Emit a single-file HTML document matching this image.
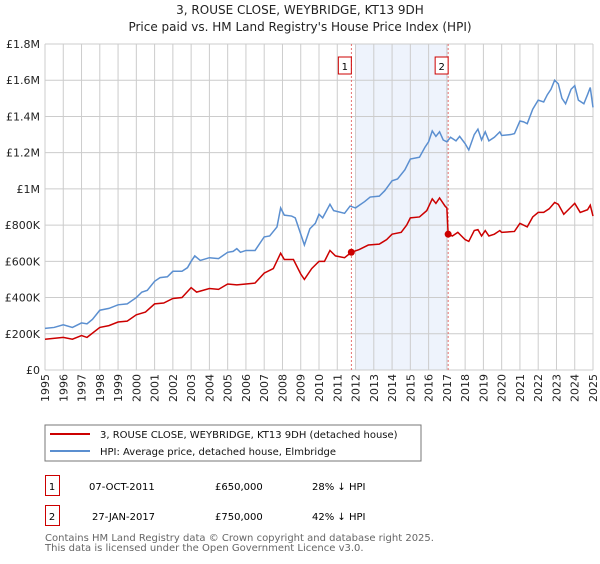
<!DOCTYPE html>
<html><head><meta charset="utf-8"><style>
body{margin:0;background:#fff;font-family:"DejaVu Sans","Liberation Sans",sans-serif;}
svg text{font-family:"DejaVu Sans","Liberation Sans",sans-serif;}
</style></head><body>
<svg id="c" width="600" height="560" xmlns="http://www.w3.org/2000/svg">
<text x="300" y="14" text-anchor="middle" font-size="12" fill="#222">3, ROUSE CLOSE, WEYBRIDGE, KT13 9DH</text>
<text x="300" y="31" text-anchor="middle" font-size="12" fill="#222">Price paid vs. HM Land Registry's House Price Index (HPI)</text>
<g id="grid"></g><g id="marks"></g><g id="axes"></g>
<rect x="45" y="425" width="376" height="36" fill="#fff" stroke="#777"/>
<line x1="50" y1="434" x2="90" y2="434" stroke="#cc0000" stroke-width="2"/>
<text x="100" y="438" font-size="10" fill="#111">3, ROUSE CLOSE, WEYBRIDGE, KT13 9DH (detached house)</text>
<line x1="50" y1="451" x2="90" y2="451" stroke="#5b8fd0" stroke-width="2"/>
<text x="100" y="455" font-size="10" fill="#111">HPI: Average price, detached house, Elmbridge</text>
<g>
<rect x="45.5" y="475.5" width="14" height="20" fill="none" stroke="#cc0000"/>
<text x="52" y="490" text-anchor="middle" font-size="10">1</text>
<text x="89" y="490" font-size="10">07-OCT-2011</text>
<text x="215" y="490" font-size="10">£650,000</text>
<text x="312" y="490" font-size="10">28% ↓ HPI</text></g>
<g>
<rect x="45.5" y="505.5" width="14" height="20" fill="none" stroke="#cc0000"/>
<text x="52" y="520" text-anchor="middle" font-size="10">2</text>
<text x="92" y="520" font-size="10">27-JAN-2017</text>
<text x="215" y="520" font-size="10">£750,000</text>
<text x="312" y="520" font-size="10">42% ↓ HPI</text></g>
<text x="45" y="541" font-size="10" fill="#666">Contains HM Land Registry data © Crown copyright and database right 2025.</text>
<text x="45" y="551" font-size="10" fill="#666">This data is licensed under the Open Government Licence v3.0.</text>
</svg>
<script>
const yTicks=[0,200,400,600,800,1000,1200,1400,1600,1800];
const yTickLabels=["£0","£200K","£400K","£600K","£800K","£1M","£1.2M","£1.4M","£1.6M","£1.8M"];
const years=[1995,1996,1997,1998,1999,2000,2001,2002,2003,2004,2005,2006,2007,2008,2009,2010,2011,2012,2013,2014,2015,2016,2017,2018,2019,2020,2021,2022,2023,2024,2025];
const hpiT=[1995,1995.5,1996,1996.5,1997,1997.3,1997.6,1998,1998.5,1999,1999.5,2000,2000.3,2000.6,2001,2001.3,2001.7,2002,2002.5,2002.8,2003,2003.2,2003.5,2004,2004.5,2005,2005.3,2005.5,2005.7,2006,2006.5,2007,2007.3,2007.7,2007.9,2008.1,2008.5,2008.7,2009,2009.2,2009.5,2009.8,2010,2010.2,2010.6,2010.8,2011,2011.4,2011.7,2012,2012.5,2012.8,2013.3,2013.6,2014,2014.3,2014.7,2015,2015.5,2015.8,2016,2016.2,2016.4,2016.6,2016.8,2017,2017.2,2017.5,2017.7,2018,2018.2,2018.5,2018.7,2018.9,2019.1,2019.3,2019.6,2019.9,2020,2020.5,2020.7,2021,2021.2,2021.4,2021.7,2022,2022.3,2022.5,2022.7,2022.9,2023.1,2023.3,2023.5,2023.8,2024,2024.2,2024.5,2024.7,2024.85,2025];
const hpiV=[230,235,250,235,260,255,280,330,340,360,365,400,430,440,490,510,515,545,545,565,600,630,605,620,615,650,655,670,650,660,660,735,740,790,895,855,850,840,750,690,780,810,860,840,915,880,875,865,905,895,930,955,960,990,1045,1055,1105,1165,1175,1230,1260,1320,1290,1315,1270,1260,1285,1265,1290,1250,1215,1300,1330,1270,1315,1265,1285,1315,1295,1300,1305,1375,1370,1360,1440,1490,1480,1520,1550,1600,1580,1500,1470,1550,1570,1490,1470,1520,1560,1450];
const ppT=[1995,1996,1996.5,1997,1997.3,1998,1998.5,1999,1999.5,2000,2000.5,2001,2001.5,2002,2002.5,2003,2003.3,2004,2004.5,2005,2005.5,2006,2006.5,2007,2007.5,2007.9,2008.1,2008.6,2009,2009.2,2009.6,2010,2010.3,2010.6,2010.9,2011.4,2011.77,2012.2,2012.7,2013.3,2013.7,2014,2014.5,2014.8,2015,2015.5,2015.9,2016.2,2016.4,2016.6,2016.9,2017,2017.07,2017.3,2017.6,2018,2018.2,2018.5,2018.7,2018.9,2019.1,2019.3,2019.6,2019.9,2020,2020.7,2021,2021.4,2021.7,2022,2022.3,2022.6,2022.9,2023.1,2023.4,2023.8,2024,2024.3,2024.7,2024.85,2025];
const ppV=[170,180,170,190,180,235,245,265,270,305,320,365,370,395,400,455,430,450,445,475,470,475,480,535,560,645,610,610,530,500,560,600,600,660,630,620,650,665,690,695,720,750,760,800,840,845,880,945,920,950,905,895,750,740,760,720,710,770,775,740,770,740,750,770,760,765,810,790,845,870,870,890,925,915,860,900,920,870,885,910,850];
const saleT=[2011.77,2017.07];
const saleV=[650,750];
const saleLabels=["1","2"];
const shadeRange=[2012,2017.07];

const NS="http://www.w3.org/2000/svg";
const X0=45,X1=593,Y0=370,Y1=44;
const xs=t=>X0+(t-1995)/30*(X1-X0);
const ys=v=>Y0-v/1800*(Y0-Y1);
function mk(tag,attrs,parent){const e=document.createElementNS(NS,tag);for(const k in attrs)e.setAttribute(k,attrs[k]);parent.appendChild(e);return e;}
const grid=document.getElementById('grid'),marks=document.getElementById('marks'),axes=document.getElementById('axes');
let r=mk('rect',{x:xs(shadeRange[0]),y:Y1,width:xs(shadeRange[1])-xs(shadeRange[0]),height:Y0-Y1,fill:'#eef3fc'},grid);


years.forEach(y=>{const l=mk('line',{x1:xs(y),x2:xs(y),y1:Y1,y2:Y0,stroke:'#ccc','stroke-width':1},grid);


const t=mk('text',{transform:`translate(${xs(y)+4},${Y0+4}) rotate(-90)`,'text-anchor':'end','font-size':11,fill:'#222'},axes);t.textContent=y;

});
yTicks.forEach((v,i)=>{const l=mk('line',{x1:X0,x2:X1,y1:ys(v),y2:ys(v),stroke:'#ccc','stroke-width':1},grid);


const t=mk('text',{x:X0-5,y:ys(v)+4,'text-anchor':'end','font-size':11,fill:'#222'},axes);t.textContent=yTickLabels[i];

});
saleT.forEach((s,i)=>{const l=mk('line',{x1:xs(s),x2:xs(s),y1:Y1,y2:Y0,stroke:'#e05050','stroke-width':0.8,'stroke-dasharray':'2,2'},marks);


const b=mk('rect',{x:xs(s)-13,y:57,width:13,height:17,fill:'#fff',stroke:'#cc0000'},marks);


const t=mk('text',{x:xs(s)-6.5,y:70,'text-anchor':'middle','font-size':10},marks);t.textContent=saleLabels[i];

});
const hp=mk('polyline',{points:hpiT.map((t,i)=>xs(t)+','+ys(hpiV[i])).join(' '),fill:'none',stroke:'#5b8fd0','stroke-width':1.5},marks);


const pp=mk('polyline',{points:ppT.map((t,i)=>xs(t)+','+ys(ppV[i])).join(' '),fill:'none',stroke:'#cc0000','stroke-width':1.5},marks);


saleT.forEach((s,i)=>{const c=mk('circle',{cx:xs(s),cy:ys(saleV[i]),r:3.5,fill:'#cc0000'},marks);

});
</script>
</body></html>
